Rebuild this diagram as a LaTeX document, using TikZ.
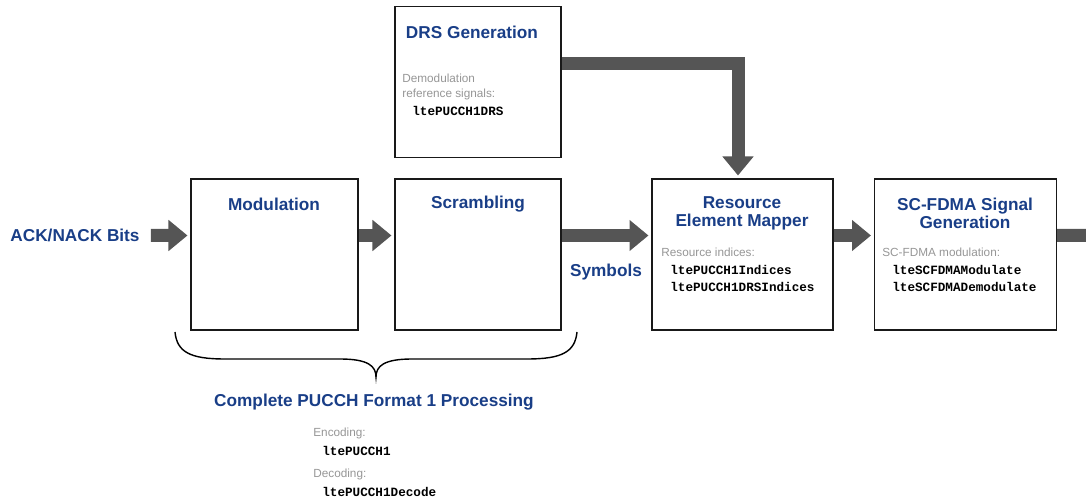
\documentclass[tikz,border=0pt]{standalone}
\usepackage{fontspec}
\setmainfont{Liberation Sans}
\setmonofont{Liberation Mono}
\usetikzlibrary{arrows.meta,positioning}
\definecolor{titleblue}{RGB}{25,62,135}
\definecolor{notegray}{RGB}{150,150,150}
\definecolor{arrowgray}{RGB}{85,85,85}
\tikzset{
  block/.style={draw=black!90, line width=0.6pt, inner sep=0pt, minimum height=3.02cm},
  title/.style={text=titleblue, font=\fontsize{9.8}{10.3}\selectfont\bfseries, align=center, inner sep=0pt},
  note/.style={text=notegray, font=\fontsize{6.7}{9}\selectfont, align=left, anchor=west, inner sep=0pt},
  code/.style={font=\fontsize{7.2}{9.7}\selectfont\ttfamily\bfseries, align=left, anchor=west, inner sep=0pt},
  flow/.style={draw=arrowgray, line width=0.26cm, -{Triangle[length=0.38cm,width=0.6cm]}, shorten >=0.06cm}
}
\begin{document}
\begin{tikzpicture}[x=0.02cm, y=-0.02cm]
    \clip (0,0) rectangle (1086,499);

    % bloques
    \node[block, minimum width=3.32cm] (drs) at (478,82) {};
    \node[block, minimum width=3.34cm] (mod) at (274.5,254.5) {};
    \node[block, minimum width=3.32cm] (scr) at (478,254.5) {};
    \node[block, minimum width=3.62cm] (rem) at (742.5,254.5) {};
    \node[block, minimum width=3.64cm] (scfdma) at (965.5,254.5) {};

    % titulos
    \node[title] (drsT) at (472,32) {DRS Generation};
    \node[title] (modT) at (274,204) {Modulation};
    \node[title] (scrT) at (478,204) {Scrambling};
    \node[title] (remT) at (742,213) {Resource\\Element Mapper};
    \node[title] (scT) at (965,213) {SC-FDMA Signal\\Generation};

    % funciones
    \node[note] (drsN) at (402,87) {Demodulation\\reference signals:};
    \node[code] (drsC) at (412,111) {ltePUCCH1DRS};
    \node[note] (remN) at (661,252) {Resource indices:};
    \node[code] (remC) at (670,278.5) {ltePUCCH1Indices\\ltePUCCH1DRSIndices};
    \node[note] (scN) at (882,252) {SC-FDMA modulation:};
    \node[code] (scC) at (892,278.5) {lteSCFDMAModulate\\lteSCFDMADemodulate};

    % flechas
    \node[title] (ack) at (75,235.5) {ACK/NACK Bits};
    \coordinate (out) at (1110,235.5);
    \draw[flow] ([xshift=0.22cm]ack.east) -- ([yshift=0.38cm]mod.west);
    \draw[flow] ([yshift=0.38cm]mod.east) -- ([yshift=0.38cm]scr.west);
    \draw[flow] ([yshift=0.38cm]scr.east) -- ([yshift=0.38cm]rem.west);
    \draw[flow] ([yshift=0.38cm]rem.east) -- ([yshift=0.38cm]scfdma.west);
    \draw[flow, shorten >=0pt] ([yshift=0.38cm]scfdma.east) -- (out);
    \draw[flow] ([yshift=0.37cm]drs.east) -| ([xshift=-0.09cm]rem.north);
    \node[title] (sym) at (606,272) {Symbols};

    % llave
    \draw[line width=0.8pt] (175,332) .. controls (177,352) and (190,359) .. (225,359) -- (340,359)
        .. controls (368,359) and (376,366) .. (376,377)
        .. controls (376,366) and (384,359) .. (412,359) -- (527,359)
        .. controls (562,359) and (575,352) .. (577,332);
    \node[title] (proc) at (374,402) {Complete PUCCH Format 1 Processing};
    \node[note] (encN) at (313,433) {Encoding:};
    \node[code] (encC) at (322,451) {ltePUCCH1};
    \node[note] (decN) at (313,474) {Decoding:};
    \node[code] (decC) at (322,492) {ltePUCCH1Decode};
\end{tikzpicture}
\end{document}
